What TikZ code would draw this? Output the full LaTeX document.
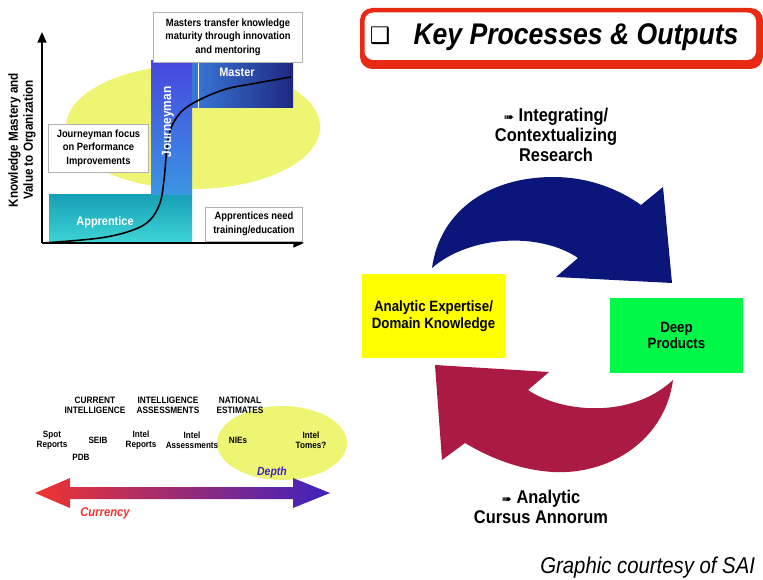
\documentclass[tikz,border=0pt]{standalone}
\usepackage{fontspec}
\setmainfont{Liberation Sans}[FakeStretch=0.89]
\newfontfamily\dingfont{DejaVu Sans}
\usetikzlibrary{arrows.meta}
\definecolor{paleyellow}{RGB}{238,245,115}
\definecolor{apptop}{RGB}{24,160,182}
\definecolor{appbot}{RGB}{62,212,214}
\definecolor{jmtop}{RGB}{70,72,222}
\definecolor{jmbot}{RGB}{58,150,226}
\definecolor{msleft}{RGB}{58,120,216}
\definecolor{msright}{RGB}{30,40,128}
\definecolor{titlered}{RGB}{232,42,20}
\definecolor{cycleblue}{RGB}{10,22,122}
\definecolor{cyclered}{RGB}{170,26,66}
\definecolor{boxyellow}{RGB}{255,255,0}
\definecolor{boxgreen}{RGB}{0,248,72}
\definecolor{currred}{RGB}{240,52,48}
\definecolor{depthblue}{RGB}{62,34,190}
\tikzstyle{notebox}=[draw=gray!60, fill=white, inner sep=0pt, outer sep=0pt, align=center, font=\fontsize{6}{7.7}\selectfont\bfseries]
\tikzstyle{stagelab}=[text=white, font=\fontsize{7}{8}\selectfont\bfseries]
\tikzstyle{kind}=[align=center, inner sep=0pt, font=\fontsize{5.3}{5.5}\selectfont\bfseries]
\tikzstyle{item}=[align=center, inner sep=0pt, font=\fontsize{5.2}{5.8}\selectfont\bfseries]
\tikzstyle{cyclebox}=[inner sep=0pt, outer sep=0pt, align=center, font=\fontsize{8.5}{9.6}\selectfont\bfseries]
\tikzstyle{steplabel}=[align=center, inner sep=0pt, font=\fontsize{10.5}{11.3}\selectfont\bfseries]
\tikzstyle{axis}=[line width=1.1pt, -{Triangle[length=6pt,width=5pt]}]
\newcommand{\notebox}{\node[notebox]}
\newcommand{\marker}{{\dingfont\fontsize{7}{7}\selectfont ➠}}

\begin{document}
\begin{tikzpicture}[x=0.02cm, y=-0.02cm]
\useasboundingbox (0,0) rectangle (763,580);
% mastery chart
\fill[paleyellow] (193,127) ellipse [x radius=127, y radius=62];
\shade[top color=apptop, bottom color=appbot] (49,195) rectangle (192,243);
\shade[top color=jmtop, bottom color=jmbot] (151,61) rectangle (192,195);
\shade[left color=msleft, right color=msright] (192,61) rectangle (293,108);
\draw[white, line width=0.5pt] (198,61) -- (198,108);
\draw[line width=0.9pt] plot[smooth, tension=0.6] coordinates {(43,243) (100,238) (133,230) (150,220) (160,203) (164,180) (168,140) (175,120) (190,105) (223,90) (257,83) (291,77)};
\node[stagelab] (appr) at (105,222) {Apprentice};
\node[stagelab, rotate=90, font=\fontsize{7.6}{8}\selectfont\bfseries] (journ) at (168,122) {Journeyman};
\node[stagelab] (mast) at (237,72) {Master};
\coordinate (origin) at (42,243);
\coordinate (ytip) at (42,32);
\coordinate (xtip) at (304,243);
\draw[axis] (origin) -- (ytip);
\draw[axis] (origin) -- (xtip);
\node[rotate=90, align=center, font=\fontsize{7.5}{8.4}\selectfont\bfseries] (ylab) at (22,140) {Knowledge Mastery and\\Value to Organization};
\notebox[minimum width=85pt, minimum height=28.4pt] (mtext) at (228,37) {Masters transfer knowledge\\maturity through innovation\\and mentoring};
\notebox[minimum width=57.3pt, minimum height=27.2pt] (jtext) at (98.5,148) {Journeyman focus\\on Performance\\Improvements};
\notebox[minimum width=55.6pt, minimum height=19.3pt] (atext) at (254,224) {Apprentices need\\training/education};

% currency vs depth
\fill[paleyellow] (282,443) ellipse [x radius=65, y radius=37];
\node[kind] (curint) at (95,405) {CURRENT\\INTELLIGENCE};
\node[kind] (intass) at (168,405) {INTELLIGENCE\\ASSESSMENTS};
\node[kind] (natest) at (240,405) {NATIONAL\\ESTIMATES};
\node[item] (spot) at (52,440) {Spot\\Reports};
\node[item] (seib) at (98,440) {SEIB};
\node[item] (pdb) at (81,457) {PDB};
\node[item] (irep) at (141,440) {Intel\\Reports};
\node[item] (iass) at (192,440) {Intel\\Assessments};
\node[item] (nies) at (238,440) {NIEs};
\node[item] (tomes) at (311,440) {Intel\\Tomes?};
\shade[left color=currred, right color=depthblue] (35,493) -- (70,478) -- (70,487) -- (293,487) -- (293,478) -- (330,493) -- (293,508) -- (293,499) -- (70,499) -- (70,508) -- cycle;
\node[text=depthblue, font=\fontsize{6.7}{8}\selectfont\bfseries\itshape] (depth) at (272,472) {Depth};
\node[text=currred, font=\fontsize{7.2}{8}\selectfont\bfseries\itshape] (curr) at (105,513) {Currency};

% key processes
\fill[titlered, rounded corners=7pt] (360,8) rectangle (763,69);
\fill[white, rounded corners=5pt] (364.5,12.5) rectangle (756,60);
\node[font=\dingfont\fontsize{13}{13}\selectfont] (chk) at (380,36) {❑};
\node[anchor=base, font=\fontsize{17}{20}\selectfont\bfseries\itshape] (title) at (576,45) {Key Processes \& Outputs};
\fill[cycleblue] (432,268) .. controls (440,210) and (490,177) .. (553,177) .. controls (590,177) and (620,190) .. (641,205) -- (663,187) -- (672,283) -- (556,277) -- (578,258) .. controls (540,232) and (470,235) .. (432,268) -- cycle;
\fill[cyclered] (435,365) -- (549,372) -- (528,390) .. controls (560,412) and (630,420) .. (673,380) .. controls (665,440) and (610,475) .. (553,472) .. controls (520,470) and (490,458) .. (465,443) -- (442,460) -- cycle;
\node[steplabel] (integ) at (556,135) {\marker\ Integrating/\\Contextualizing\\Research};
\node[cyclebox, fill=boxyellow, minimum width=81.1pt, minimum height=47.6pt] (expert) at (433.5,316) {Analytic Expertise/\\Domain Knowledge};
\node[cyclebox, fill=boxgreen, minimum width=75.4pt, minimum height=42.5pt] (deep) at (676.5,335.5) {Deep\\Products};
\node[steplabel] (cursus) at (541,507) {\marker\ Analytic\\Cursus Annorum};
\node[anchor=base west, inner sep=0pt, font=\fontsize{13}{15}\selectfont\itshape] (credit) at (540,573) {Graphic courtesy of SAI};
\end{tikzpicture}
\end{document}
